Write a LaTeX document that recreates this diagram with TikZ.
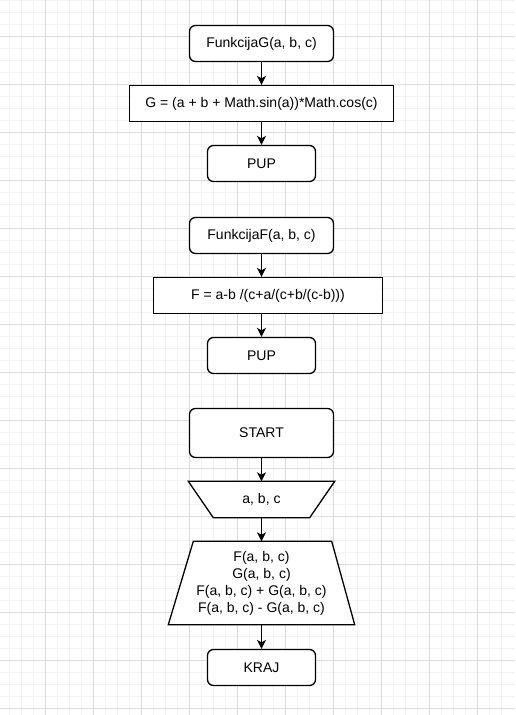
\documentclass[tikz,border=0pt]{standalone}
\usepackage{fontspec}
\setmainfont{Liberation Sans}
\usetikzlibrary{arrows.meta}
\pgfdeclarelayer{gridlayer}
\pgfdeclarelayer{background}
\pgfsetlayers{gridlayer,background,main}
\definecolor{minorc}{RGB}{243,243,243}
\definecolor{majorc}{RGB}{220,220,220}
\begin{document}
\begin{tikzpicture}[x=1pt,y=-1pt,
  box/.style={draw=black, line width=1.3pt, fill=white, minimum height=36pt, inner sep=2pt, font=\fontsize{14}{17}\selectfont},
  rbox/.style={box, rounded corners=6pt},
  shapetxt/.style={inner sep=2pt, align=center, font=\fontsize{14}{17}\selectfont},
  shp/.style={draw=black, line width=1.3pt, fill=white, line join=miter},
  arr/.style={line width=1.3pt, -{Stealth[length=9pt,width=9pt,inset=2.5pt]}},
  minorline/.style={draw=minorc, line width=0.8pt},
  majorline/.style={draw=majorc, line width=1pt}]
\useasboundingbox (0,0) rectangle (515,715);
\begin{pgfonlayer}{gridlayer}
  \fill[white] (0,0) rectangle (515,715);
  \foreach \x in {9.5,21.5,...,513} \draw[minorline] (\x,0) -- (\x,715);
  \foreach \y in {0.5,12.5,...,714} \draw[minorline] (0,\y) -- (515,\y);
  \foreach \x in {45.5,93.5,...,513} \draw[majorline] (\x,0) -- (\x,715);
  \foreach \y in {36.5,84.5,...,714} \draw[majorline] (0,\y) -- (515,\y);
\end{pgfonlayer}

% Function G
\node[rbox, minimum width=144pt] (fg) at (261.5,43.5) {FunkcijaG(a, b, c)};
\node[box, minimum width=264pt] (g) at (261.5,103.5) {G = (a + b + Math.sin(a))*Math.cos(c)};
\node[rbox, minimum width=108pt] (pup1) at (261.5,163.5) {PUP};

% Function F
\node[rbox, minimum width=144pt] (ff) at (261.5,235.5) {FunkcijaF(a, b, c)};
\node[box, minimum width=229pt] (f) at (268,295.5) {F = a-b /(c+a/(c+b/(c-b)))};
\node[rbox, minimum width=108pt] (pup2) at (261.5,355.5) {PUP};

% Main
\node[rbox, minimum width=144pt, minimum height=49pt] (start) at (261.5,433) {START};
\node[shapetxt, minimum width=146pt, minimum height=36pt] (mi) at (261.5,499.5) {a, b, c};
\node[shapetxt, minimum width=186pt, minimum height=83pt] (out) at (261.5,583)
  {F(a, b, c)\\G(a, b, c)\\F(a, b, c) + G(a, b, c)\\F(a, b, c) - G(a, b, c)};
\node[rbox, minimum width=108pt] (kraj) at (261.5,667.5) {KRAJ};

\begin{pgfonlayer}{background}
  \filldraw[shp] (mi.north west) -- (mi.north east) -- ([xshift=-25pt]mi.south east)
    -- ([xshift=25pt]mi.south west) -- cycle;
  \filldraw[shp] ([xshift=25pt]out.north west) -- ([xshift=-23pt]out.north east)
    -- (out.south east) -- (out.south west) -- cycle;
\end{pgfonlayer}

% Connectors
\draw[arr] (fg) -- (g);
\draw[arr] (g) -- (pup1);
\draw[arr] (ff.south) -- (ff.south |- f.north);
\draw[arr] (pup2.north |- f.south) -- (pup2.north);
\draw[arr] (start) -- (mi);
\draw[arr] (mi) -- (out);
\draw[arr] (out.south) -- (out.south |- kraj.north);
\end{tikzpicture}
\end{document}
